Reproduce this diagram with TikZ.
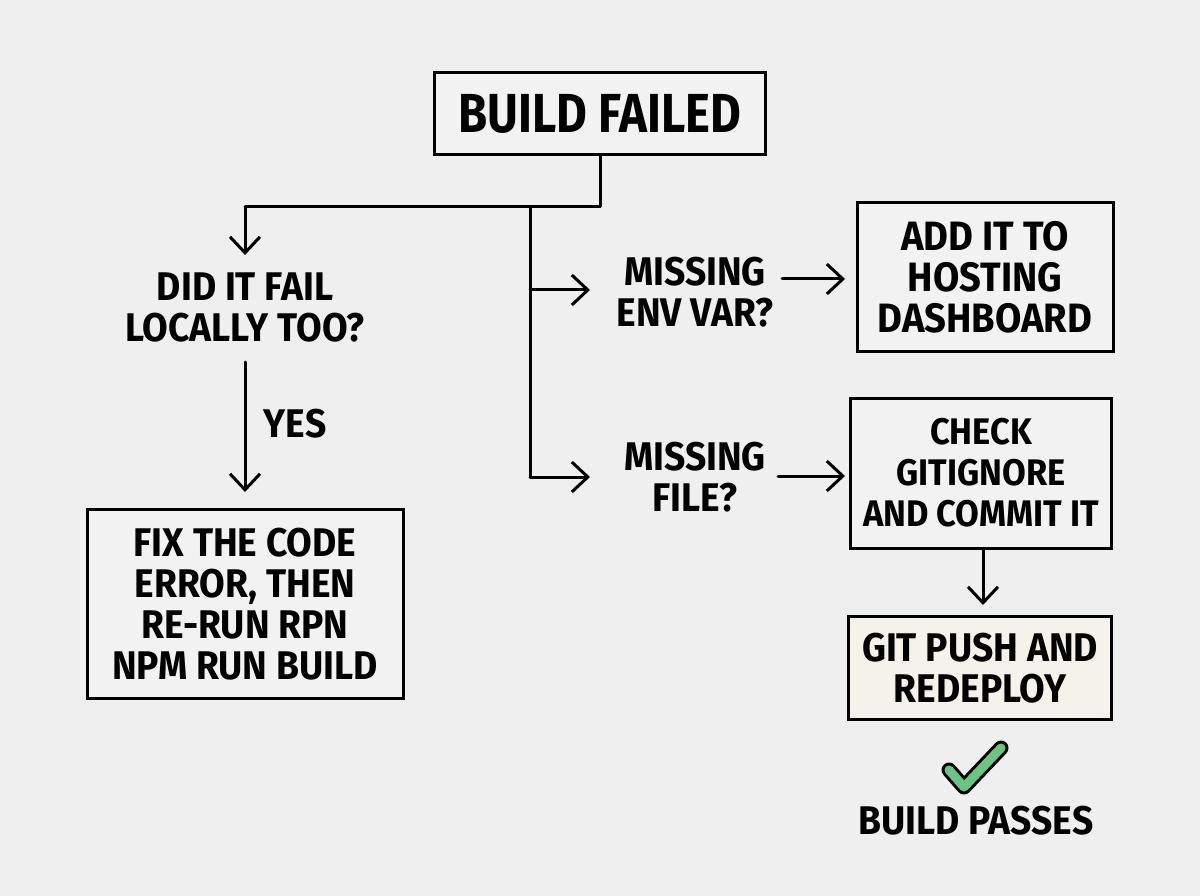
\documentclass[tikz,border=0pt]{standalone}
\usepackage{fontspec}
\setmainfont{Fira Sans}[FakeStretch=0.93]
\newfontfamily\titlefont{Fira Sans}[FakeStretch=0.86]
\usetikzlibrary{arrows.meta}
\definecolor{bg}{HTML}{EFEFEF}
\definecolor{boxfill}{HTML}{F2F2F2}
\definecolor{warmfill}{HTML}{F5F2EA}
\definecolor{checkgreen}{HTML}{6CC383}
\tikzset{
  line/.style={line width=3pt, line cap=round, line join=round},
  arr/.style={line, -{Straight Barb[length=16pt,width=30pt,line width=3pt]}},
  box/.style={draw, line width=3pt, fill=boxfill, align=center, inner sep=0pt,
     font=\bfseries\fontsize{40}{41}\selectfont},
  txt/.style={align=center, inner sep=0pt, font=\bfseries\fontsize{40}{41}\selectfont},
}
\begin{document}
\begin{tikzpicture}[x=1pt,y=-1pt]
\fill[bg] (0,0) rectangle (1200,896);
\useasboundingbox (0,0) rectangle (1200,896);

\node[box, minimum width=331pt, minimum height=82pt, font=\titlefont\bfseries\fontsize{55}{56}\selectfont] (build) at (600,114) {BUILD FAILED};
\node[txt] (q1) at (245,307) {DID IT FAIL\\LOCALLY TOO?};
\node[txt] (yes) at (295,424) {YES};
\node[box, minimum width=316pt, minimum height=189pt] (fix) at (245,604) {FIX THE CODE\\ERROR, THEN\\RE-RUN RPN\\NPM RUN BUILD};
\node[txt] (q2) at (695,292) {MISSING\\ENV VAR?};
\node[txt] (q3) at (695,477) {MISSING\\FILE?};
\node[box, minimum width=256pt, minimum height=149pt, font=\bfseries\fontsize{41}{41}\selectfont] (add) at (985,277) {ADD IT TO\\HOSTING\\DASHBOARD};
\node[box, minimum width=261pt, minimum height=150pt, font=\bfseries\fontsize{37}{41}\selectfont] (chk) at (981,473) {CHECK\\GITIGNORE\\AND COMMIT IT};
\node[box, fill=warmfill, minimum width=263pt, minimum height=103pt] (git) at (980,668) {GIT PUSH AND\\REDEPLOY};
\node[txt] (pass) at (976,821) {BUILD PASSES};

% junctions
\coordinate (j) at (600,207);
\coordinate (jl) at (245,207);
\coordinate (jm) at (530,207);
\coordinate (q1in) at (245,255);
\coordinate (q1out) at (245,362);
\coordinate (fixin) at (245,492);
\coordinate (jm2) at (530,290);
\coordinate (jm3) at (530,477);
\coordinate (q2in) at (590,290);
\coordinate (q3in) at (590,477);
\coordinate (q2out) at (782,279);
\coordinate (q3out) at (778,476);
\coordinate (addin) at (845,279);
\coordinate (chkin) at (845,476);
\coordinate (gitin) at (983,605);

\draw[line] (build.south) -- (j) -- (jl);
\draw[arr] (jl) -- (q1in);
\draw[line] (jm) -- (jm3);
\draw[arr] (q1out) -- (fixin);
\draw[arr] (jm2) -- (q2in);
\draw[arr] (jm3) -- (q3in);
\draw[arr] (q2out) -- (addin);
\draw[arr] (q3out) -- (chkin);
\draw[arr] (chk.south -| gitin) -- (gitin);

% check mark
\draw[line width=15pt, line cap=round, line join=round] (949,770) -- (964,787) -- (1001,748);
\draw[checkgreen, line width=9pt, line cap=round, line join=round] (949,770) -- (964,787) -- (1001,748);
\end{tikzpicture}
\end{document}
